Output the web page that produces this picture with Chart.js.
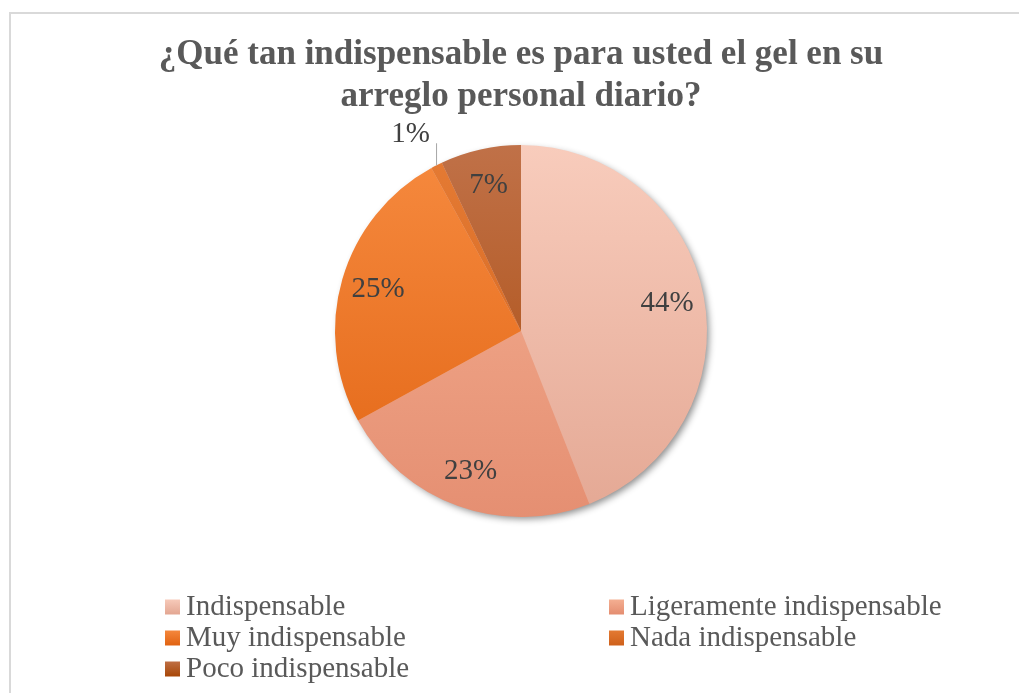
<!DOCTYPE html>
<html>
<head>
<meta charset="utf-8">
<script src="https://cdn.jsdelivr.net/npm/chart.js@4.4.1/dist/chart.umd.min.js"></script>
<style>
  html, body { margin: 0; padding: 0; background: #ffffff; }
  #wrap { position: relative; width: 1019px; height: 693px; }
</style>
</head>
<body>
<div id="wrap"><canvas id="c" width="1019" height="693"></canvas></div>
<script>
const titleLines = ['¿Qué tan indispensable es para usted el gel en su', 'arreglo personal diario?'];
const categories = ['Indispensable', 'Ligeramente indispensable', 'Muy indispensable', 'Nada indispensable', 'Poco indispensable'];
const values = [44, 23, 25, 1, 7];
const topColors = ['#F8CCBC', '#F5B194', '#F68A3F', '#E57B34', '#C07148'];
const bottomColors = ['#E4A894', '#E58F72', '#E26514', '#D0621C', '#A9490A'];

const SERIF = '"Liberation Serif", "Times New Roman", serif';

function vGrad(ctx, y0, y1, i) {
  const g = ctx.createLinearGradient(0, y0, 0, y1);
  g.addColorStop(0, topColors[i]);
  g.addColorStop(1, bottomColors[i]);
  return g;
}

const frame = {
  id: 'frame',
  beforeDraw(chart) {
    const ctx = chart.ctx;
    ctx.save();
    ctx.strokeStyle = '#d9d9d9';
    ctx.lineWidth = 2;
    ctx.strokeRect(10, 13, 1030, 700);
    ctx.restore();
  }
};

const shadow = {
  id: 'shadow',
  beforeDatasetsDraw(chart) {
    const arc = chart.getDatasetMeta(0).data[0];
    if (!arc) return;
    const {x, y, outerRadius} = arc.getProps(['x', 'y', 'outerRadius'], true);
    const ctx = chart.ctx;
    ctx.save();
    ctx.shadowColor = 'rgba(0,0,0,0.45)';
    ctx.shadowBlur = 7;
    ctx.shadowOffsetX = 3;
    ctx.shadowOffsetY = 3;
    ctx.fillStyle = '#e9b5a2';
    ctx.beginPath();
    ctx.arc(x, y, outerRadius - 1, 0, Math.PI * 2);
    ctx.fill();
    ctx.restore();
  }
};

const labels = {
  id: 'pctLabels',
  afterDatasetsDraw(chart) {
    const ctx = chart.ctx;
    const meta = chart.getDatasetMeta(0);
    const data = chart.data.datasets[0].data;
    const total = data.reduce((a, b) => a + b, 0);
    ctx.save();
    ctx.font = '29px ' + SERIF;
    ctx.fillStyle = '#404040';
    ctx.textBaseline = 'middle';
    ctx.textAlign = 'center';
    meta.data.forEach((arc, i) => {
      const p = arc.getProps(['x', 'y', 'startAngle', 'endAngle', 'outerRadius'], true);
      const mid = (p.startAngle + p.endAngle) / 2;
      const pct = Math.round(data[i] / total * 100) + '%';
      if (data[i] / total < 0.03) {
        const ex = p.x + Math.cos(mid) * p.outerRadius;
        const ey = p.y + Math.sin(mid) * p.outerRadius;
        ctx.strokeStyle = '#a6a6a6';
        ctx.lineWidth = 1;
        ctx.beginPath();
        ctx.moveTo(ex, ey);
        ctx.lineTo(ex, ey - 22);
        ctx.stroke();
        ctx.fillText(pct, ex - 26, ey - 31);
      } else {
        const r = p.outerRadius * 0.8;
        ctx.fillText(pct, p.x + Math.cos(mid) * r, p.y + Math.sin(mid) * r);
      }
    });
    ctx.restore();
  }
};

const legend = {
  id: 'gridLegend',
  afterDraw(chart) {
    const ctx = chart.ctx;
    const cats = chart.data.labels;
    const colX = [165, 609];
    const rowY = [606, 637, 668];
    const box = 15;
    ctx.save();
    ctx.font = '29px ' + SERIF;
    ctx.fillStyle = '#595959';
    ctx.textBaseline = 'middle';
    ctx.textAlign = 'left';
    cats.forEach((name, i) => {
      const cx = colX[i % 2];
      const cy = rowY[Math.floor(i / 2)];
      ctx.fillStyle = vGrad(ctx, cy - box / 2, cy + box / 2, i);
      ctx.fillRect(cx, cy - box / 2 + 1, box, box);
      ctx.fillStyle = '#595959';
      ctx.fillText(name, cx + box + 6, cy + 1);
    });
    ctx.restore();
  }
};

new Chart(document.getElementById('c'), {
  type: 'pie',
  data: {
    labels: categories,
    datasets: [{
      data: values,
      borderWidth: 0,
      backgroundColor(context) {
        const chart = context.chart;
        const a = chart.chartArea;
        if (!a) return topColors[context.dataIndex];
        return vGrad(chart.ctx, a.top, a.bottom, context.dataIndex);
      }
    }]
  },
  options: {
    responsive: false,
    animation: false,
    devicePixelRatio: 1,
    layout: { padding: { left: 23, right: 0, top: 0, bottom: 176 } },
    plugins: {
      legend: { display: false },
      tooltip: { enabled: false },
      title: {
        display: true,
        text: titleLines,
        color: '#595959',
        font: { family: SERIF, size: 35, weight: 'bold', lineHeight: 1.2 },
        padding: { top: 34, bottom: 27 }
      }
    }
  },
  plugins: [frame, shadow, labels, legend]
});
</script>
</body>
</html>
